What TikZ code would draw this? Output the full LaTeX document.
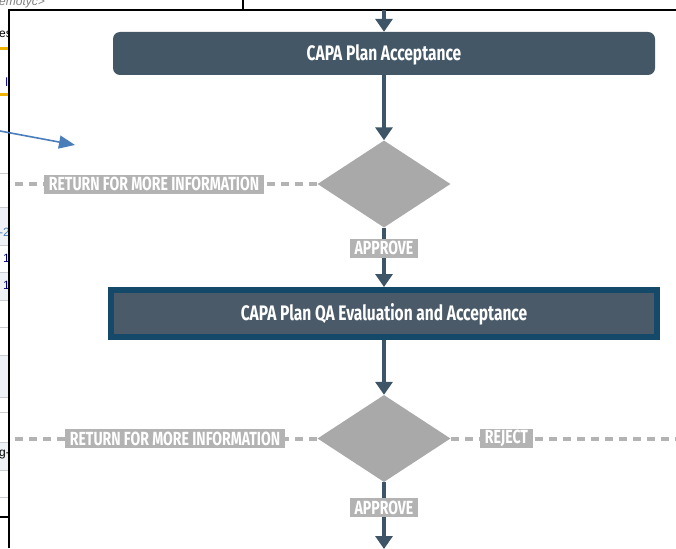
\documentclass[tikz,border=0pt]{standalone}
\usepackage{fontspec}
\setmainfont{Liberation Sans}
\newfontfamily\condfont[FakeStretch=0.74]{Fira Sans}
\usetikzlibrary{shapes.geometric,arrows.meta}

\definecolor{boxfill}{HTML}{435766}
\definecolor{qafill}{HTML}{4B5A68}
\definecolor{qaborder}{HTML}{15496A}
\definecolor{decgray}{HTML}{A9A9A9}
\definecolor{labgray}{HTML}{B3B3B3}
\definecolor{flowline}{HTML}{3D5566}
\definecolor{callout}{HTML}{4A7EBB}
\definecolor{rowfill}{HTML}{EEF2F6}
\definecolor{rowline}{HTML}{C8CCD0}
\definecolor{hilite}{HTML}{F0B400}

\tikzset{
  flowbox/.style={rectangle, rounded corners=7pt, fill=boxfill, text=white,
    minimum width=542pt, minimum height=43pt, inner sep=0pt,
    text height=15pt, text depth=0pt,
    font=\condfont\bfseries\fontsize{21}{23}\selectfont},
  qabox/.style={rectangle, fill=qafill, draw=qaborder, line width=6pt, text=white,
    minimum width=546pt, minimum height=47pt, inner sep=0pt,
    text height=14pt, text depth=0pt,
    font=\condfont\bfseries\fontsize{21}{23}\selectfont},
  decision/.style={diamond, fill=decgray, inner sep=0pt, aspect=1.54,
    minimum width=133pt, minimum height=87pt},
  tag/.style={rectangle, fill=labgray, text=white, inner xsep=5pt, inner ysep=0pt,
    minimum height=19pt, font=\condfont\bfseries\fontsize{19}{20}\selectfont},
  flow/.style={draw=flowline, line width=4pt,
    -{Triangle[width=17pt,length=13pt]}},
  loop/.style={draw=labgray, line width=4pt, dash pattern=on 8pt off 6pt},
  frag/.style={inner sep=0pt, font=\fontsize{12}{14}\selectfont}
}

\begin{document}
\begin{tikzpicture}[x=1pt,y=-1pt]
\useasboundingbox (0,0) rectangle (676,548);
\fill[white] (0,0) rectangle (676,548);

% window behind the chart, visible along the top and left edges
\begin{scope}
  \clip (0,0) -- (676,0) -- (676,10) -- (9,10) -- (9,548) -- (0,548) -- cycle;
  \fill[rowfill] (0,207) rectangle (9,245);
  \fill[rowfill] (0,272) rectangle (9,300);
  \fill[rowfill] (0,355) rectangle (9,397);
  \fill[rowfill] (0,442) rectangle (9,470);
  \foreach \yy in {173,207,245,272,300,327,355,397,412,442,470,497}
    \draw[rowline, line width=0.8pt] (0,\yy) -- (9,\yy);
  \node[frag, anchor=west, text=gray, font=\itshape\fontsize{12}{14}\selectfont] (fragA) at (-1,3) {emotyc>};
  \node[frag, anchor=east] (fragB) at (12,34) {es};
  \draw[hilite, line width=3pt] (0,49) -- (9,49);
  \node[frag, anchor=east, text=blue!60!black] (fragC) at (11,82) {li};
  \draw[hilite, line width=3pt] (0,95) -- (9,95);
  \node[frag, anchor=east, text=callout] (fragD) at (10,232) {-2};
  \node[frag, anchor=east, text=blue!50!black] (fragE) at (10,258) {1};
  \node[frag, anchor=east, text=blue!50!black] (fragF) at (10,285) {1};
  \node[frag, anchor=east] (fragG) at (10,455) {g-};
  \draw[black, line width=1.2pt] (0,517) -- (9,517);
  \draw[black, line width=1.5pt] (243,0) -- (243,10);
\end{scope}

% chart frame
\draw[black, line width=1.6pt] (9,548) -- (9,10) -- (676,10);

% call-out arrow coming in from the left
\coordinate (calloutStart) at (0,131);
\coordinate (calloutEnd) at (75,145);
\draw[callout, line width=1.6pt, -{Triangle[width=13pt,length=16pt]}] (calloutStart) -- (calloutEnd);

% flow chart
\coordinate (inflow) at (384,10);
\node[flowbox] (accept) at (384,53.5) {CAPA Plan Acceptance};
\node[decision] (dec1) at (384,184) {};
\node[qabox] (qa) at (384,313.5) {CAPA Plan QA Evaluation and Acceptance};
\node[decision] (dec2) at (384,438.5) {};
\coordinate (outflow) at (384,549);

\coordinate (ret1) at (10,184);
\coordinate (ret2) at (10,438.5);
\coordinate (rej) at (676,438.5);

\draw[flow] (inflow) -- (accept.north);
\draw[flow] (accept.south) -- (dec1.north);
\draw[flow] (dec1.south) -- (qa.north);
\draw[flow] (qa.south) -- (dec2.north);
\draw[flow] (dec2.south) -- (outflow);

\draw[loop] (dec1.west) -- (ret1);
\draw[loop] (dec2.west) -- (ret2);
\draw[loop] (dec2.east) -- (rej);

\node[tag] (tagRet1) at (154,184) {RETURN FOR MORE INFORMATION};
\node[tag] (tagApp1) at (384,248) {APPROVE};
\node[tag] (tagRet2) at (175,438.5) {RETURN FOR MORE INFORMATION};
\node[tag] (tagRej) at (506.5,438.5) {REJECT};
\node[tag] (tagApp2) at (384,507.5) {APPROVE};
\end{tikzpicture}
\end{document}
